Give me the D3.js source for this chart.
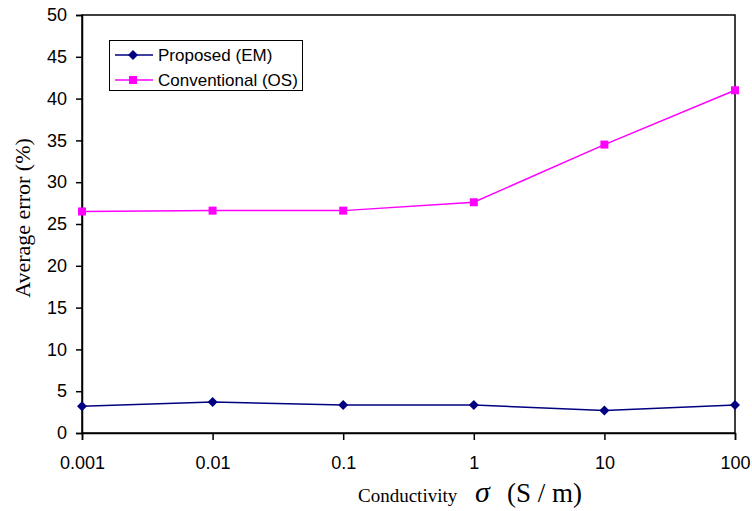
<!DOCTYPE html>
<html>
<head>
<meta charset="utf-8">
<script src="https://cdn.jsdelivr.net/npm/d3@7"></script>
<style>
  body { margin: 0; background: #fff; }
  svg text { fill: #000; }
</style>
</head>
<body>
<svg id="chart" width="752" height="511"></svg>
<script>
// conductivity values (S/m)
var sigma = [0.001, 0.01, 0.1, 1, 10, 100];
var tickLabels = ['0.001', '0.01', '0.1', '1', '10', '100'];
var proposed = [3.2, 3.7, 3.35, 3.35, 2.7, 3.35];
var conventional = [26.5, 26.6, 26.6, 27.6, 34.5, 41.0];
var yTicks = [0, 5, 10, 15, 20, 25, 30, 35, 40, 45, 50];

var plotLeft = 82, plotRight = 735, plotTop = 15, plotBottom = 433;

var svg = d3.select('#chart');

var x = d3.scaleLog().domain([0.001, 100]).range([plotLeft, plotRight]);
var y = d3.scaleLinear().domain([0, 50]).range([plotBottom, plotTop]);

// frame
svg.append('rect')
	.attr('x', plotLeft).attr('y', plotTop)
	.attr('width', plotRight - plotLeft).attr('height', plotBottom - plotTop)
	.attr('fill', 'none').attr('stroke', '#000').attr('stroke-width', 1.5);

var yAxis = svg.append('g')
	.attr('transform', 'translate(' + plotLeft + ',0)')
	.call(d3.axisLeft(y).tickValues(yTicks).tickSize(6).tickPadding(9));
yAxis.select('.domain').attr('stroke-width', 1.5);
yAxis.selectAll('line').attr('stroke-width', 1.5);
yAxis.selectAll('text')
	.attr('font-family', 'Liberation Sans, Arial, sans-serif')
	.attr('font-size', 18);

var xAxis = svg.append('g')
	.attr('transform', 'translate(0,' + plotBottom + ')')
	.call(d3.axisBottom(x).tickValues(sigma).tickFormat(function(d, i) { return tickLabels[i]; }).tickSize(7).tickPadding(16));
xAxis.select('.domain').attr('stroke-width', 1.5);
xAxis.selectAll('line').attr('stroke-width', 1.5);
xAxis.selectAll('text')
	.attr('font-family', 'Liberation Sans, Arial, sans-serif')
	.attr('font-size', 18);

var line = d3.line()
	.x(function(d, i) { return x(sigma[i]); })
	.y(function(d) { return y(d); });

// conventional (OS)
svg.append('path')
	.datum(conventional)
	.attr('d', line)
	.attr('fill', 'none')
	.attr('stroke', '#ff00ff')
	.attr('stroke-width', 1.5);

svg.selectAll('rect.os')
	.data(conventional)
	.enter()
	.append('rect')
	.attr('class', 'os')
	.attr('x', function(d, i) { return x(sigma[i]) - 4; })
	.attr('y', function(d) { return y(d) - 4; })
	.attr('width', 8).attr('height', 8)
	.attr('fill', '#ff00ff');

// proposed (EM)
svg.append('path')
	.datum(proposed)
	.attr('d', line)
	.attr('fill', 'none')
	.attr('stroke', '#000080')
	.attr('stroke-width', 1.5);

var diamond = 'M0,-5L5,0L0,5L-5,0Z';
svg.selectAll('path.em')
	.data(proposed)
	.enter()
	.append('path')
	.attr('class', 'em')
	.attr('d', diamond)
	.attr('transform', function(d, i) { return 'translate(' + x(sigma[i]) + ',' + y(d) + ')'; })
	.attr('fill', '#000080');

// legend
var lg = svg.append('g');
lg.append('rect')
	.attr('x', 109.5).attr('y', 40.5)
	.attr('width', 193).attr('height', 50)
	.attr('fill', '#fff').attr('stroke', '#000').attr('stroke-width', 1);

lg.append('line').attr('x1', 115).attr('x2', 153).attr('y1', 55).attr('y2', 55)
	.attr('stroke', '#000080').attr('stroke-width', 1.5);
lg.append('path').attr('d', diamond).attr('transform', 'translate(133,55)').attr('fill', '#000080');
lg.append('text').attr('x', 158).attr('y', 61).text('Proposed (EM)')
	.attr('font-family', 'Liberation Sans, Arial, sans-serif').attr('font-size', 17);

lg.append('line').attr('x1', 115).attr('x2', 153).attr('y1', 80).attr('y2', 80)
	.attr('stroke', '#ff00ff').attr('stroke-width', 1.5);
lg.append('rect').attr('x', 129).attr('y', 76).attr('width', 8).attr('height', 8).attr('fill', '#ff00ff');
lg.append('text').attr('x', 158).attr('y', 86).text('Conventional (OS)')
	.attr('font-family', 'Liberation Sans, Arial, sans-serif').attr('font-size', 17);

// y axis title
svg.append('text')
	.attr('transform', 'translate(30,218) rotate(-90)')
	.attr('text-anchor', 'middle')
	.attr('font-family', 'Liberation Serif, Times New Roman, serif')
	.attr('font-size', 22)
	.text('Average error (%)');

// x axis title
var xt = svg.append('text')
	.attr('x', 358).attr('y', 502)
	.attr('font-family', 'Liberation Serif, Times New Roman, serif');
xt.append('tspan').attr('font-size', 19).text('Conductivity');
xt.append('tspan').attr('x', 475).attr('font-size', 30).attr('font-style', 'italic').text('σ');
xt.append('tspan').attr('x', 507).attr('font-size', 27).text('(S / m)');
</script>
</body>
</html>
